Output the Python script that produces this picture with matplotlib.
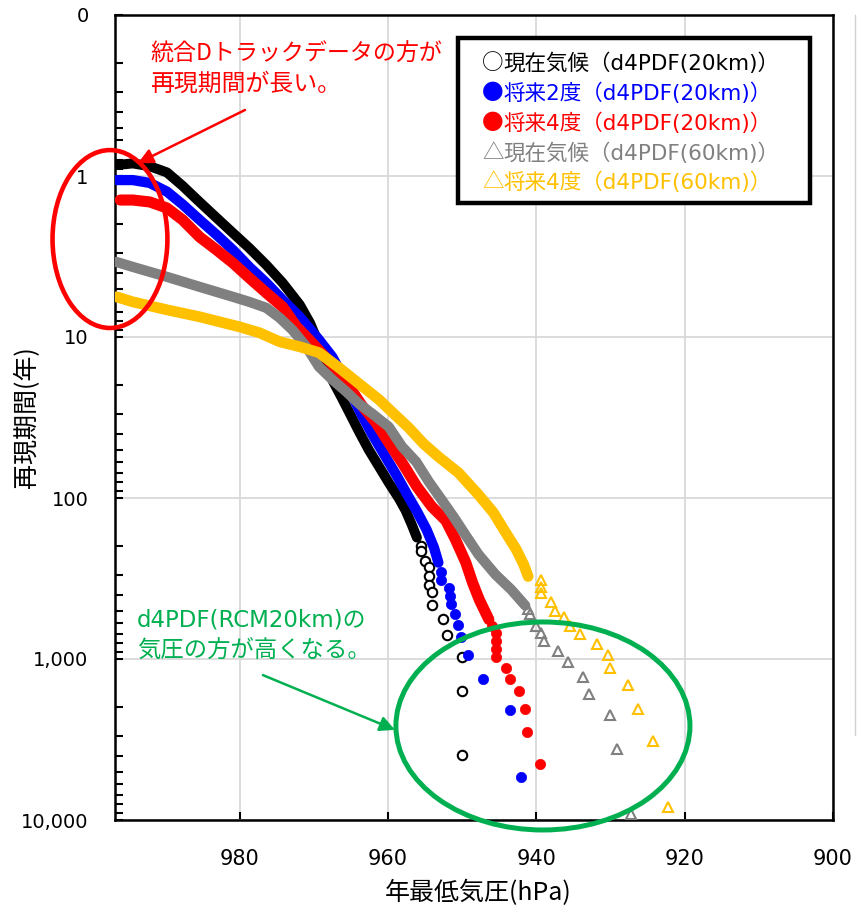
import matplotlib
matplotlib.use("Agg")
import matplotlib.pyplot as plt
from matplotlib.patches import Ellipse, Rectangle
from matplotlib.lines import Line2D
from matplotlib.ticker import LogLocator, NullFormatter, FixedLocator

plt.rcParams['font.family'] = ['Noto Sans CJK JP', 'DejaVu Sans']

# ---------------- data (pressure hPa, return period years) ----------------
# dense part of each series (overlapping markers form a band)
black_band_p = [996.6, 994.4, 992.1, 989.8, 987.7, 985.4, 983.1, 980.9, 978.7, 976.4, 974.2,
                971.9, 970.5, 969.0, 967.5, 966.3, 965.2, 963.9, 962.6, 961.2, 959.9, 958.5,
                957.6, 956.8, 956.1]
black_band_t = [0.855, 0.835, 0.870, 0.950, 1.15, 1.45, 1.82, 2.26, 2.80, 3.57, 4.61,
                6.30, 8.20, 12.0, 18.5, 23.5, 29.5, 38.7, 50.1, 63.9, 80.2, 101,
                120, 146, 176]
black_tail_p = [955.6, 955.5, 955.0, 954.4, 954.4, 954.4, 954.1, 954.1, 952.6, 952.0, 950.0, 950.0, 950.0]
black_tail_t = [199, 214, 247, 270, 306, 345, 386, 465, 562, 714, 973, 1590, 3963]

blue_band_p = [996.6, 994.4, 992.1, 989.8, 987.7, 985.4, 983.1, 980.9, 978.7, 976.4, 974.2,
               971.9, 969.3, 967.5, 965.6, 963.9, 962.1, 960.5, 958.9, 957.4, 956.1, 954.8,
               953.8, 953.2]
blue_band_t = [1.06, 1.06, 1.105, 1.25, 1.50, 1.87, 2.32, 2.88, 3.67, 4.61, 5.88,
               7.49, 10.4, 13.3, 19.2, 28.3, 40.4, 53.8, 71.6, 95.3, 121, 157,
               203, 252]
blue_tail_p = [952.9, 952.9, 951.8, 951.7, 951.5, 950.9, 950.6, 950.1, 949.2, 947.2, 943.5, 942.1]
blue_tail_t = [290, 321, 361, 407, 454, 529, 617, 731, 946, 1325, 2084, 5400]

red_band_p = [996.1, 994.4, 992.1, 989.8, 987.7, 985.4, 983.1, 980.9, 978.7, 976.4, 974.2,
              972.3, 970.2, 967.5, 965.2, 963.5, 961.6, 959.9, 958.1, 956.1, 954.1, 952.2,
              950.9, 949.5, 948.6, 947.7, 946.4]
red_band_t = [1.41, 1.41, 1.45, 1.58, 1.87, 2.39, 2.88, 3.47, 4.29, 5.32, 6.50,
              8.65, 10.9, 14.9, 20.4, 26.7, 34.1, 45.3, 60.3, 85.0, 113, 138,
              181, 252, 335, 427, 568]
red_tail_p = [946.0, 945.5, 945.5, 945.5, 945.5, 944.1, 943.5, 942.3, 941.5, 941.2, 939.5]
red_tail_t = [625, 687, 774, 863, 973, 1133, 1325, 1590, 2034, 2840, 4506]

gray_band_p = [996.6, 994.4, 989.8, 985.4, 980.9, 978.7, 976.4, 974.6, 972.9, 971.0, 969.3,
               967.5, 965.6, 963.9, 962.1, 959.9, 958.1, 956.2, 954.5, 952.8, 951.1, 949.5,
               947.8, 945.5, 943.4, 941.5]
gray_band_t = [3.42, 3.67, 4.23, 4.88, 5.63, 6.05, 6.59, 7.60, 9.02, 11.5, 15.3,
               18.4, 21.9, 26.0, 30.0, 36.1, 48.0, 59.5, 79.1, 102, 132, 171,
               224, 299, 370, 465]
gray_tail_p = [941.1, 940.8, 940.1, 939.3, 938.9, 937.1, 935.7, 933.7, 932.9, 930.0, 929.1, 927.3]
gray_tail_t = [492, 529, 625, 687, 774, 893, 1040, 1295, 1642, 2230, 3640, 9120]

orange_band_p = [996.6, 994.4, 989.8, 985.4, 980.0, 977.3, 974.6, 971.9, 969.3, 966.6, 963.9,
                 961.2, 959.2, 957.2, 955.2, 953.2, 950.5, 947.8, 945.8, 944.2, 942.7, 941.7,
                 941.1]
orange_band_t = [5.63, 6.05, 6.78, 7.49, 8.65, 9.42, 10.7, 11.5, 12.5, 15.5, 19.5,
                 24.5, 30.0, 36.6, 46.0, 55.4, 69.6, 95.3, 123, 162, 209, 259,
                 307]
orange_tail_p = [939.4, 939.4, 939.4, 938.0, 937.5, 936.3, 935.5, 934.1, 931.8, 930.3, 930.0,
                 927.7, 926.3, 924.3, 922.3]
orange_tail_t = [321, 359, 388, 443, 505, 547, 625, 703, 812, 946, 1133,
                 1458, 2034, 3235, 8280]

legend_symbols = ['○', '●', '●', '△', '△']
legend_labels = ['現在気候（d4PDF(20km)）', '将来2度（d4PDF(20km)）', '将来4度（d4PDF(20km)）',
                 '現在気候（d4PDF(60km)）', '将来4度（d4PDF(60km)）']
colors = ['#000000', '#0000FF', '#FF0000', '#808080', '#FFC000']

y_ticks = [0.1, 1, 10, 100, 1000, 10000]
y_ticklabels = ['0', '1', '10', '100', '1,000', '10,000']
x_ticks = [980, 960, 940, 920, 900]
x_ticklabels = ['980', '960', '940', '920', '900']

# ---------------- figure ----------------
fig = plt.figure(figsize=(8.57, 9.10), dpi=100)
ax = fig.add_axes([115 / 857, 1 - 820 / 910, 718 / 857, 805 / 910])

ax.set_yscale('log')
ax.set_ylim(10000, 0.1)
ax.set_xlim(996.8, 900)

series = [
    (black_band_p, black_band_t, black_tail_p, black_tail_t, colors[0], 'o', 'none', 7.2),
    (blue_band_p, blue_band_t, blue_tail_p, blue_tail_t, colors[1], 'o', colors[1], 7.4),
    (red_band_p, red_band_t, red_tail_p, red_tail_t, colors[2], 'o', colors[2], 8.0),
    (gray_band_p, gray_band_t, gray_tail_p, gray_tail_t, colors[3], '^', 'none', 7.4),
    (orange_band_p, orange_band_t, orange_tail_p, orange_tail_t, colors[4], '^', 'none', 7.8),
]
for i, (bp, bt, tp, tt, c, m, fc, lw) in enumerate(series):
    ax.plot(bp, bt, color=c, lw=lw, solid_capstyle='round', solid_joinstyle='round', zorder=3 + i)
    if fc == 'none':
        ax.plot(tp, tt, ls='none', marker=m, ms=6.8, mfc='white' if m == 'o' else 'none',
                mec=c, mew=1.5, zorder=3 + i)
    else:
        ax.plot(tp, tt, ls='none', marker=m, ms=7.4, mfc=c, mec=c, mew=0.5, zorder=3 + i)

# ticks / grid
ax.yaxis.set_major_locator(FixedLocator(y_ticks))
ax.set_yticklabels(y_ticklabels)
ax.yaxis.set_minor_locator(LogLocator(base=10, subs=range(2, 10), numticks=20))
ax.yaxis.set_minor_formatter(NullFormatter())
ax.set_xticks(x_ticks)
ax.set_xticklabels(x_ticklabels)
ax.grid(True, which='major', color='#D9D9D9', lw=1.3, zorder=0)
ax.set_axisbelow(True)
ax.tick_params(axis='y', which='both', direction='in', length=6, width=1.5, left=True, right=False,
               labelsize=14, pad=19)
ax.tick_params(axis='x', which='both', direction='in', length=6, width=1.5, bottom=True, top=False,
               labelsize=15, pad=21)
for lab in ax.get_yticklabels():
    lab.set_fontfamily(['DejaVu Sans'])
for lab in ax.get_xticklabels():
    lab.set_fontfamily(['Liberation Sans Narrow', 'DejaVu Sans'])
for s in ax.spines.values():
    s.set_linewidth(1.8)
    s.set_color('black')

ax.text(-0.123, 0.5, '再現期間(年)', rotation=90, transform=ax.transAxes, ha='center', va='center',
        fontsize=18)
ax.text(0.5056, -0.0907, '年最低気圧(hPa)', transform=ax.transAxes, ha='center', va='center',
        fontsize=18)

# ---------------- annotations ----------------
red = '#FF0000'
green = '#00B050'
mixed = ['DejaVu Sans', 'Noto Sans CJK JP']
ax.text(0.0487, 0.9516, '統合Dトラックデータの方が', color=red, transform=ax.transAxes,
        ha='left', va='center', fontsize=16.6, zorder=12)
ax.text(0.0487, 0.9143, '再現期間が長い。', color=red, transform=ax.transAxes,
        ha='left', va='center', fontsize=17.2, zorder=12)
ax.annotate('', xy=(0.032, 0.816), xytext=(0.181, 0.882), xycoords='axes fraction',
            arrowprops=dict(arrowstyle='-|>,head_length=0.9,head_width=0.45', color=red, lw=1.8,
                            shrinkA=0, shrinkB=0), zorder=12)
ax.add_patch(Ellipse((-0.007, 0.7217), 0.160, 0.221, transform=ax.transAxes, fill=False,
                     ec=red, lw=3.3, clip_on=False, zorder=12))

ax.text(0.0306, 0.2484, 'd4PDF(RCM20km)の', color=green, transform=ax.transAxes,
        ha='left', va='center', fontsize=16.5, family=mixed, zorder=12)
ax.text(0.0306, 0.2112, '気圧の方が高くなる。', color=green, transform=ax.transAxes,
        ha='left', va='center', fontsize=16.8, zorder=12)
ax.annotate('', xy=(0.39, 0.112), xytext=(0.206, 0.180), xycoords='axes fraction',
            arrowprops=dict(arrowstyle='-|>,head_length=0.9,head_width=0.45', color=green, lw=1.8,
                            shrinkA=0, shrinkB=0), zorder=12)
ax.add_patch(Ellipse((0.596, 0.1168), 0.4095, 0.2584, transform=ax.transAxes, fill=False,
                     ec=green, lw=3.6, clip_on=False, zorder=12))

# legend text box
ax.add_patch(Rectangle((0.4777, 0.7665), 0.4903, 0.2049, transform=ax.transAxes, fc='white',
                       ec='black', lw=3.2, zorder=13))
leg_y = [0.9404, 0.9031, 0.8658, 0.8286, 0.7925]
for sym, lab, c, yy in zip(legend_symbols, legend_labels, colors, leg_y):
    st = ax.text(0.5111, yy, sym, color=c, transform=ax.transAxes, ha='left', va='center',
                 fontsize=15.5, zorder=14)
    ax.annotate(lab, xy=(1.0, 0.5), xycoords=st, ha='left', va='center', color=c,
                fontsize=15.5, family=mixed, zorder=14, annotation_clip=False)

fig.add_artist(Line2D([855 / 857, 855 / 857], [1 - 15 / 910, 1 - 735 / 910], color='#D0D0D0', lw=1))

fig.savefig('out.png', dpi=100)
